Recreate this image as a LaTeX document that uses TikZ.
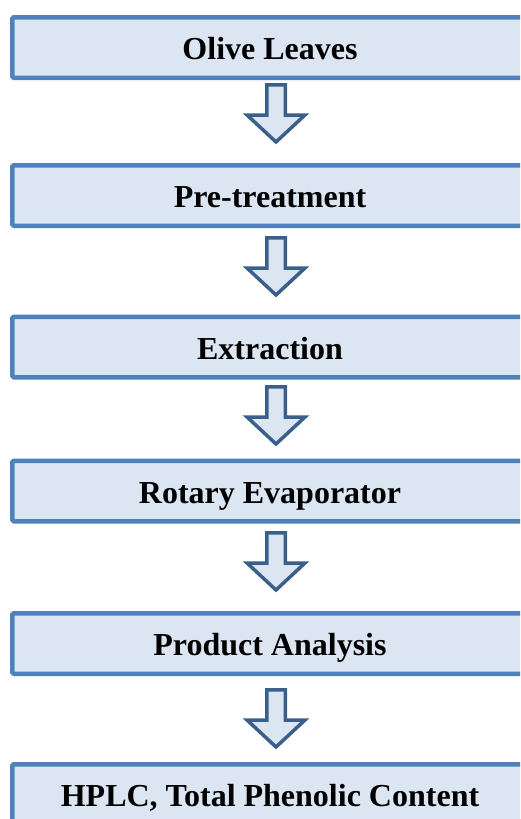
\documentclass[tikz,border=0pt]{standalone}
\usepackage{fontspec}
\setmainfont{Liberation Serif}
\usetikzlibrary{calc}
\definecolor{boxfill}{HTML}{DCE6F2}
\definecolor{boxline}{HTML}{4F81BD}
\definecolor{arrline}{HTML}{3A5F8B}
\tikzset{
  stage/.style={draw=boxline, fill=boxfill, line width=4.5pt, rounded corners=1.5pt,
    minimum width=515.5pt, minimum height=60.5pt, inner sep=0pt,
    text height=30pt, text depth=6pt,
    font=\fontsize{32}{36}\selectfont\bfseries},
  blockarrow/.pic={
    \draw[draw=arrline, fill=boxfill, line width=3.5pt, line join=miter]
      (-9.25,1.75) -- (9.25,1.75) -- (9.25,32) -- (29,32) -- (0,59)
      -- (-29,32) -- (-9.25,32) -- cycle;
  }
}
\begin{document}
\begin{tikzpicture}[x=1pt, y=-1pt]
\useasboundingbox (0,0) rectangle (520,819);
\clip (0,0) rectangle (520,819);
\node[stage] (b1) at (270,47.5) {Olive Leaves};
\node[stage] (b2) at (270,195.5) {Pre-treatment};
\node[stage] (b3) at (270,347) {Extraction};
\node[stage] (b4) at (270,491) {Rotary Evaporator};
\node[stage] (b5) at (270,643.5) {Product Analysis};
\node[stage] (b6) at (270,794.5) {HPLC, Total Phenolic Content};
\coordinate (a1) at (276,83);
\coordinate (a2) at (276,236);
\coordinate (a3) at (276,385);
\coordinate (a4) at (276,531);
\coordinate (a5) at (276,688);
\foreach \a in {a1,a2,a3,a4,a5} { \pic at (\a) {blockarrow}; }
\end{tikzpicture}
\end{document}
